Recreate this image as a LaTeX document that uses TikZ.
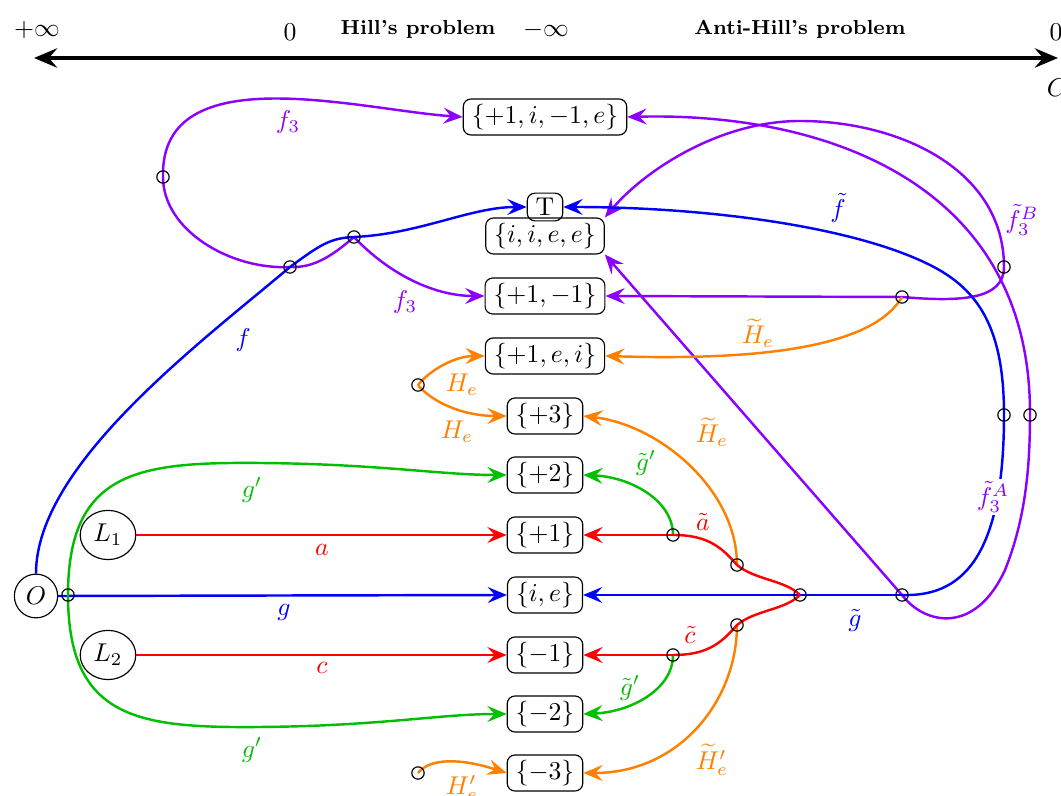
\documentclass[tikz,border=0pt]{standalone}
\usetikzlibrary{arrows.meta,shapes.geometric}
\definecolor{myblue}{RGB}{0,0,255}
\definecolor{mypurple}{RGB}{139,0,255}
\definecolor{mygreen}{RGB}{0,190,0}
\definecolor{myorange}{RGB}{255,128,0}
\definecolor{myred}{RGB}{255,0,0}
\begin{document}
\begin{tikzpicture}[x=0.389pt,y=-0.389pt,
  box/.style={draw,rounded corners=3pt,inner xsep=3.3pt,inner ysep=2pt,line width=0.45pt},
  oval/.style={draw,ellipse,inner xsep=2pt,inner ysep=2.6pt,line width=0.45pt},
  dot/.style={draw,circle,minimum size=4.8pt,inner sep=0pt,line width=0.45pt},
  conn/.style={line width=0.95pt,-{Stealth[length=7.5pt,width=6.2pt,inset=2.8pt]}},
  plain/.style={line width=0.95pt},
  axis/.style={line width=1.6pt,{Stealth[length=9pt,width=7.5pt,inset=3.2pt]}-{Stealth[length=9pt,width=7.5pt,inset=3.2pt]}},
  hill/.style={font=\fontsize{7.9pt}{10pt}\selectfont\bfseries},
  lab/.style={inner sep=1pt}]
\useasboundingbox (0,0) rectangle (1061,796);

% top axis
\node (pinf) at (37,30) {$+\infty$};
\node (z1) at (290,32) {$0$};
\node[hill] (hp) at (418,29) {Hill's problem};
\node (minf) at (546,30) {$-\infty$};
\node[hill] (ahp) at (800,29) {Anti-Hill's problem};
\node (z2) at (1056,32) {$0$};
\node (C) at (1057,88) {$C$};
\coordinate (ax1) at (34,58);
\coordinate (ax2) at (1058,58);
\draw[axis] (ax1) -- (ax2);

% boxes
\node[box] (N1) at (545,117) {$\{+1,i,-1,e\}$};
\node[box] (T) at (545,207) {T};
\node[box] (N2) at (545,236) {$\{i,i,e,e\}$};
\node[box] (N3) at (545,296) {$\{+1,-1\}$};
\node[box] (N4) at (545,356) {$\{+1,e,i\}$};
\node[box] (N5) at (545,416) {$\{+3\}$};
\node[box] (N6) at (545,475) {$\{+2\}$};
\node[box] (N7) at (545,535) {$\{+1\}$};
\node[box] (N8) at (545,595) {$\{i,e\}$};
\node[box] (N9) at (545,655) {$\{-1\}$};
\node[box] (N10) at (545,714) {$\{-2\}$};
\node[box] (N11) at (545,773) {$\{-3\}$};

\node[oval] (O) at (36,596) {$O$};
\node[oval] (L1) at (108,535) {$L_1$};
\node[oval] (L2) at (108,655) {$L_2$};

% junction points
\coordinate (c1) at (163,177);
\coordinate (c2) at (290,267);
\coordinate (c3) at (354,237);
\coordinate (c4) at (902,297);
\coordinate (c5) at (1004,267);
\coordinate (c6) at (418,385);
\coordinate (c7) at (1004,415);
\coordinate (c8) at (1030,415);
\coordinate (c9) at (673,535);
\coordinate (c10) at (737,565);
\coordinate (c11) at (800,595);
\coordinate (c12) at (902,595);
\coordinate (c13) at (737,625);
\coordinate (c14) at (673,655);
\coordinate (c15) at (68,595);
\coordinate (c16) at (418,773);

% purple
\draw[plain,mypurple] (c3) .. controls (330,258) and (312,268) .. (c2)
  .. controls (230,270) and (163,230) .. (c1);
\draw[conn,mypurple] (c1) .. controls (160,55) and (360,110) .. (N1.west);
\draw[conn,mypurple] (c3) .. controls (385,270) and (430,296) .. (N3.west);
\draw[conn,mypurple] (c4) -- (N3.east);
\draw[plain,mypurple] (c4) .. controls (960,302) and (1004,300) .. (c5);
\draw[conn,mypurple] (c5) .. controls (1004,170) and (900,121) .. (800,121)
  .. controls (720,121) and (645,170) .. (N2.north east);
\draw[conn,mypurple] (c12) -- (N2.south east);
\draw[plain,mypurple] (c12) .. controls (925,625) and (975,635) .. (1005,570)
  .. controls (1025,520) and (1030,470) .. (c8);
\draw[conn,mypurple] (c8) .. controls (1031,180) and (820,112) .. (N1.east);

% blue
\draw[conn,myblue] (O.north) .. controls (36,465) and (200,343) .. (c2)
  .. controls (320,245) and (330,238) .. (c3)
  .. controls (420,234) and (470,207) .. (T.west);
\draw[conn,myblue] (O.east) -- (N8.west);
\draw[conn,myblue] (c12) -- (N8.east);
\draw[plain,myblue] (c12) .. controls (960,597) and (1004,560) .. (c7);
\draw[conn,myblue] (c7) .. controls (1004,330) and (980,290) .. (930,265)
  .. controls (850,225) and (700,207) .. (T.east);

% orange
\draw[conn,myorange] (c4) .. controls (870,352) and (740,360) .. (N4.east);
\draw[conn,myorange] (c6) .. controls (430,370) and (455,356) .. (N4.west);
\draw[conn,myorange] (c6) .. controls (430,400) and (460,416) .. (N5.west);
\draw[conn,myorange] (c10) .. controls (737,490) and (660,425) .. (N5.east);
\draw[conn,myorange] (c13) .. controls (737,700) and (680,773) .. (N11.east);
\draw[conn,myorange] (c16) .. controls (430,758) and (460,758) .. (N11.west);

% green
\draw[conn,mygreen] (c15) .. controls (68,470) and (140,462) .. (260,463)
  .. controls (380,464) and (440,475) .. (N6.west);
\draw[conn,mygreen] (c15) .. controls (68,720) and (140,728) .. (260,727)
  .. controls (380,726) and (440,714) .. (N10.west);
\draw[conn,mygreen] (c9) .. controls (673,500) and (630,477) .. (N6.east);
\draw[conn,mygreen] (c14) .. controls (673,690) and (630,712) .. (N10.east);

% red
\draw[conn,myred] (L1.east) -- (N7.west);
\draw[conn,myred] (L2.east) -- (N9.west);
\draw[plain,myred] (c11) .. controls (785,580) and (755,580) .. (c10)
  .. controls (720,545) and (705,535) .. (c9);
\draw[conn,myred] (c9) -- (N7.east);
\draw[plain,myred] (c11) .. controls (785,610) and (755,610) .. (c13)
  .. controls (720,645) and (705,655) .. (c14);
\draw[conn,myred] (c14) -- (N9.east);

% junction circles
\foreach \p in {c1,c2,c3,c4,c5,c6,c7,c8,c9,c10,c11,c12,c13,c14,c15,c16}
  \node[dot] (d\p) at (\p) {};

% labels
\node[lab,text=mypurple] (l1) at (288,122) {$f_3$};
\node[lab,text=mypurple] (l2) at (405,302) {$f_3$};
\node[lab,text=myblue] (l3) at (243,340) {$f$};
\node[lab,text=myblue] (l4) at (838,208) {$\tilde f$};
\node[lab,text=mypurple] (l5) at (1022,220) {$\tilde f_3^B$};
\node[lab,text=mypurple,fill=white] (l6) at (993,497) {$\tilde f_3^A$};
\node[lab,text=myorange] (l7) at (758,333) {$\widetilde{H}_e$};
\node[lab,text=myorange] (l8) at (712,432) {$\widetilde{H}_e$};
\node[lab,text=myorange] (l9) at (712,760) {$\widetilde{H}'_e$};
\node[lab,text=myorange] (l10) at (462,385) {$H_e$};
\node[lab,text=myorange] (l11) at (457,432) {$H_e$};
\node[lab,text=myorange] (l12) at (462,788) {$H'_e$};
\node[lab,text=mygreen] (l13) at (252,490) {$g'$};
\node[lab,text=mygreen] (l14) at (252,750) {$g'$};
\node[lab,text=mygreen] (l15) at (646,463) {$\tilde g'$};
\node[lab,text=mygreen] (l16) at (630,688) {$\tilde g'$};
\node[lab,text=myred] (l17) at (322,550) {$a$};
\node[lab,text=myred] (l18) at (322,668) {$c$};
\node[lab,text=myred] (l19) at (703,522) {$\tilde a$};
\node[lab,text=myred] (l20) at (690,635) {$\tilde c$};
\node[lab,text=myblue] (l21) at (284,612) {$g$};
\node[lab,text=myblue] (l22) at (855,620) {$\tilde g$};
\end{tikzpicture}
\end{document}
